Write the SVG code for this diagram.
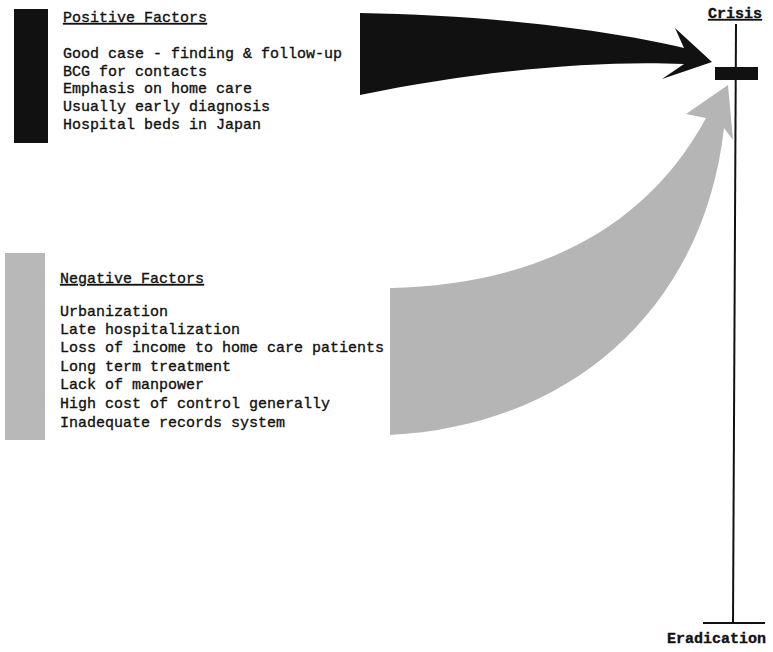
<svg xmlns="http://www.w3.org/2000/svg" width="773" height="652" viewBox="0 0 773 652">
<style>
.t{font-family:"Liberation Mono","Courier New",monospace;font-size:15px;fill:#111;stroke:#111;stroke-width:0.35}
.h{text-decoration:underline}
.b{font-weight:bold}
.ln{stroke:#111;stroke-width:2;fill:none}
</style>
<rect width="773" height="652" fill="#fff"/>
<g id="positive">
<rect x="14" y="9" width="34" height="134" fill="#111"/>
<text class="t h" x="63" y="22">Positive Factors</text>
<text class="t" x="63" y="58">Good case - finding &amp; follow-up</text>
<text class="t" x="63" y="76">BCG for contacts</text>
<text class="t" x="63" y="93">Emphasis on home care</text>
<text class="t" x="63" y="111">Usually early diagnosis</text>
<text class="t" x="63" y="129">Hospital beds in Japan</text>
</g>
<g id="negative">
<rect x="5" y="253" width="40" height="187" fill="#b8b8b8"/>
<text class="t h" x="60" y="283">Negative Factors</text>
<text class="t" x="60" y="316">Urbanization</text>
<text class="t" x="60" y="334">Late hospitalization</text>
<text class="t" x="60" y="352">Loss of income to home care patients</text>
<text class="t" x="60" y="371">Long term treatment</text>
<text class="t" x="60" y="389">Lack of manpower</text>
<text class="t" x="60" y="408">High cost of control generally</text>
<text class="t" x="60" y="427">Inadequate records system</text>
</g>
<g id="scale">
<line class="ln" x1="736" y1="24" x2="733" y2="623"/>
<line class="ln" x1="703" y1="623" x2="765" y2="623"/>
<rect x="715" y="67" width="43" height="13" fill="#111"/>
<text class="t b h" x="708" y="18">Crisis</text>
<text class="t b" x="667" y="643">Eradication</text>
</g>
<g id="connectors">
<path d="M360,13 C480,15 600,28 684,48 L675,28 L712,62 L662,79 L684,64 C600,60 480,70 360,95 Z" fill="#111"/>
<path d="M390,288 C520,285 640,240 706,118 L686,114 L728,85 L733,140 L724,128 C705,300 580,425 390,435 Z" fill="#b5b5b5"/>
</g>
</svg>
